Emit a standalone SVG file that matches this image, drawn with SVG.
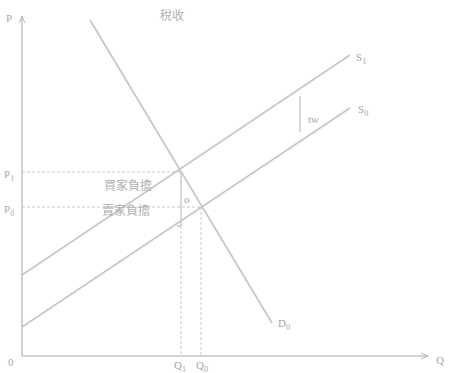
<svg xmlns="http://www.w3.org/2000/svg" width="450" height="373" viewBox="0 0 450 373">
<style>
.ax{stroke:#c4c4c4;stroke-width:1.6;fill:none}
.ln{stroke:#c8c8c8;stroke-width:1.8;fill:none}
.dash{stroke:#c8c8c8;stroke-width:1;stroke-dasharray:3,2;fill:none}
.t{font-family:"Liberation Serif",serif;font-size:11px;fill:#a8a8a8}
.c{font-family:"Noto Sans CJK SC","Noto Sans CJK TC",sans-serif;font-size:12px;fill:#b0b0b0}
</style>
<defs>
<marker id="ar" markerWidth="8" markerHeight="8" refX="7" refY="4" orient="auto" markerUnits="userSpaceOnUse">
<path d="M0,1 L7,4 L0,7" fill="none" stroke="#b8b8b8" stroke-width="1"/>
</marker>
</defs>
<rect width="450" height="373" fill="#ffffff"/>
<g id="title"><text class="c" x="160" y="20">稅收</text></g>
<g id="axes">
<line class="ax" x1="22" y1="356" x2="22" y2="16" marker-end="url(#ar)"/>
<line class="ax" x1="22" y1="356" x2="428" y2="356" marker-end="url(#ar)"/>
<text class="t" x="6" y="22">P</text>
<text class="t" x="436" y="364">Q</text>
<text class="t" x="8" y="366">0</text>
</g>
<g id="connectors">
<line class="dash" x1="22" y1="172" x2="181" y2="172"/>
<line class="dash" x1="22" y1="207" x2="201" y2="207"/>
<line class="dash" x1="181" y1="226" x2="181" y2="356"/>
<line class="dash" x1="201" y1="207" x2="201" y2="356"/>
<line stroke="#b0b0b0" stroke-width="1" x1="181" y1="172" x2="181" y2="226"/>
<line stroke="#b0b0b0" stroke-width="1" x1="177" y1="226" x2="181" y2="226"/>
<line stroke="#b0b0b0" stroke-width="1" x1="300" y1="96" x2="300" y2="132"/>
</g>
<g id="S1">
<line class="ln" x1="22" y1="275" x2="350" y2="55"/>
<text class="t" x="356" y="61">S<tspan font-size="8" dy="3">1</tspan></text>
</g>
<g id="S0">
<line class="ln" x1="22" y1="327" x2="350" y2="108"/>
<text class="t" x="358" y="113">S<tspan font-size="8" dy="3">0</tspan></text>
</g>
<g id="D0">
<line class="ln" x1="90" y1="20" x2="272" y2="323"/>
<text class="t" x="278" y="327">D<tspan font-size="8" dy="3">0</tspan></text>
</g>
<g id="labels">
<text class="t" x="4" y="178">P<tspan font-size="8" dy="3">1</tspan></text>
<text class="t" x="4" y="213">P<tspan font-size="8" dy="3">0</tspan></text>
<text class="t" x="174" y="369">Q<tspan font-size="8" dy="3">1</tspan></text>
<text class="t" x="196" y="369">Q<tspan font-size="8" dy="3">0</tspan></text>
<text class="t" x="308" y="123">tw</text>
<text class="t" x="184" y="203" font-size="8">o</text>
<text class="c" x="104" y="190">買家負擔</text>
<text class="c" x="102" y="215">賣家負擔</text>
</g>
</svg>
